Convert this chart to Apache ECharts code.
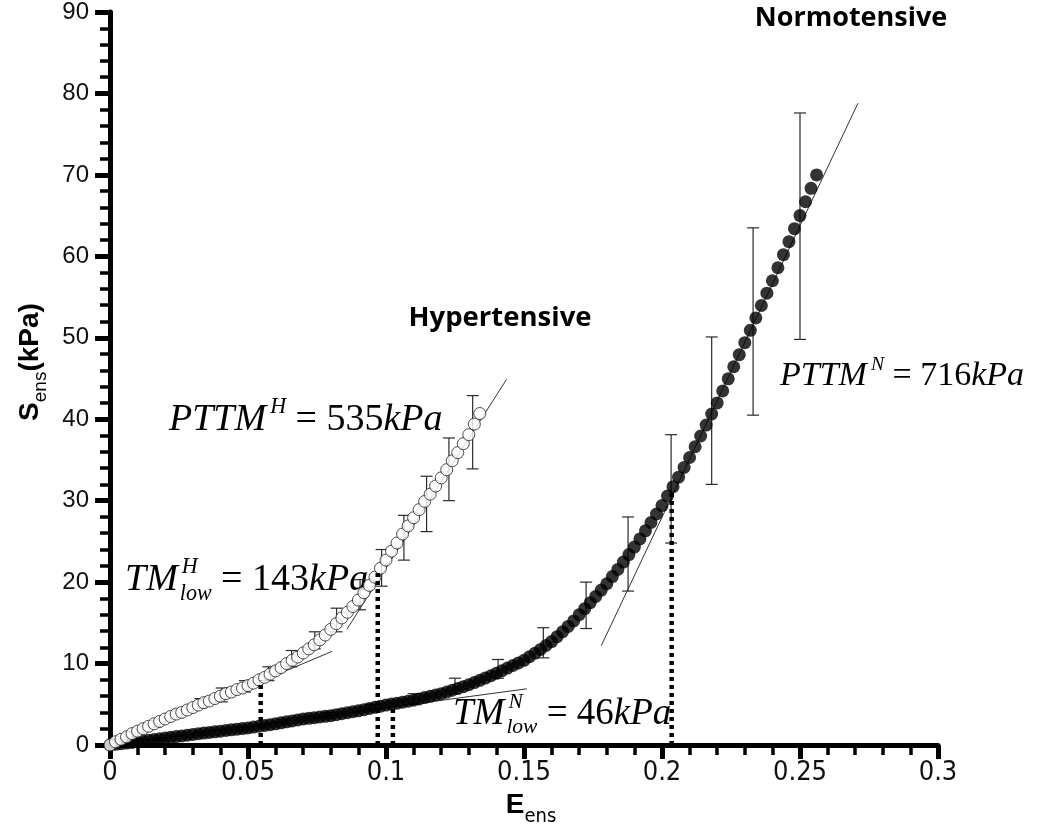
<!DOCTYPE html>
<html><head><meta charset="utf-8">
<script src="https://cdn.jsdelivr.net/npm/echarts@6/dist/echarts.min.js"></script>
<style>html,body{margin:0;padding:0;background:#fff}#c{width:1050px;height:834px}</style>
</head><body><div id="c"></div>
<script>
// ---------- data ----------
const xTickLabels = ['0','0.05','0.1','0.15','0.2','0.25','0.3'];
const yTickLabels = ['0','10','20','30','40','50','60','70','80','90'];

// Hypertensive (open circles)
const hypStrain = [0,0.002,0.004,0.006,0.008,0.010,0.012,0.014,0.016,0.018,0.020,0.022,0.024,0.026,0.028,0.030,0.032,0.034,0.036,0.038,0.040,0.042,0.044,0.046,0.048,0.050,0.052,0.054,0.056,0.058,0.060,0.062,0.064,0.066,0.068,0.070,0.072,0.074,0.076,0.078,0.080,0.082,0.084,0.086,0.088,0.090,0.092,0.094,0.096,0.098,0.100,0.102,0.104,0.106,0.108,0.110,0.112,0.114,0.116,0.118,0.120,0.122,0.124,0.126,0.128,0.130,0.132,0.134];
const hypStress = [0,0.4,0.7,1.0,1.4,1.7,2.0,2.3,2.6,2.9,3.2,3.5,3.8,4.0,4.3,4.6,4.9,5.2,5.4,5.7,6.0,6.3,6.5,6.8,7.0,7.3,7.6,8.0,8.3,8.7,9.1,9.5,10.0,10.4,10.8,11.3,11.8,12.3,12.9,13.5,14.2,14.9,15.6,16.3,17.0,17.8,18.7,19.6,20.6,21.7,22.7,23.8,24.8,25.9,26.9,27.9,28.9,29.9,30.8,31.8,32.8,33.8,34.9,35.9,37.0,38.1,39.4,40.7];

// Normotensive (filled dots)
const normStrain = [0,0.002,0.004,0.006,0.008,0.010,0.012,0.014,0.016,0.018,0.020,0.022,0.024,0.026,0.028,0.030,0.032,0.034,0.036,0.038,0.040,0.042,0.044,0.046,0.048,0.050,0.052,0.054,0.056,0.058,0.060,0.062,0.064,0.066,0.068,0.070,0.072,0.074,0.076,0.078,0.080,0.082,0.084,0.086,0.088,0.090,0.092,0.094,0.096,0.098,0.100,0.102,0.104,0.106,0.108,0.110,0.112,0.114,0.116,0.118,0.120,0.122,0.124,0.126,0.128,0.130,0.132,0.134,0.136,0.138,0.140,0.142,0.144,0.146,0.148,0.150,0.152,0.154,0.156,0.158,0.160,0.162,0.164,0.166,0.168,0.170,0.172,0.174,0.176,0.178,0.180,0.182,0.184,0.186,0.188,0.190,0.192,0.194,0.196,0.198,0.200,0.202,0.204,0.206,0.208,0.210,0.212,0.214,0.216,0.218,0.220,0.222,0.224,0.226,0.228,0.230,0.232,0.234,0.236,0.238,0.240,0.242,0.244,0.246,0.248,0.250,0.252,0.254,0.256];
const normStress = [0,0.08,0.16,0.24,0.32,0.40,0.49,0.58,0.67,0.76,0.85,0.94,1.03,1.12,1.21,1.30,1.38,1.46,1.54,1.62,1.70,1.78,1.86,1.94,2.02,2.10,2.20,2.30,2.40,2.50,2.60,2.72,2.84,2.96,3.08,3.20,3.28,3.36,3.44,3.52,3.60,3.72,3.84,3.96,4.08,4.20,4.34,4.48,4.62,4.76,4.90,5.02,5.14,5.26,5.38,5.50,5.66,5.82,5.98,6.14,6.30,6.50,6.72,6.94,7.16,7.40,7.66,7.94,8.22,8.50,8.80,9.12,9.44,9.76,10.08,10.40,10.84,11.28,11.74,12.22,12.70,13.30,13.92,14.56,15.24,16.00,16.74,17.48,18.24,19.02,19.80,20.68,21.56,22.46,23.38,24.30,25.30,26.30,27.32,28.36,29.40,30.56,31.72,32.88,34.08,35.30,36.62,37.94,39.28,40.64,42.00,43.48,44.96,46.44,47.92,49.40,50.92,52.44,53.96,55.48,57.00,58.60,60.20,61.80,63.40,65.00,66.70,68.35,70.00];

// error bars
const hypBarX    = [0.0082,0.0164,0.0246,0.0328,0.0405,0.0489,0.0574,0.0658,0.0742,0.0821,0.0906,0.0984,0.1065,0.1147,0.1228,0.1314];
const hypBarLow  = [1.1,2.2,3.4,4.5,5.3,6.5,7.9,9.6,11.8,13.9,16.6,19.5,22.7,26.2,30.0,33.9];
const hypBarHigh = [1.6,3.0,4.3,5.7,7.0,7.9,9.6,11.6,13.9,16.8,20.3,24.0,28.2,33.0,37.7,42.9];
const normBarX    = [0.0175,0.033,0.0485,0.064,0.079,0.0945,0.110,0.125,0.1406,0.157,0.1725,0.1877,0.2033,0.218,0.233,0.250];
const normBarLow  = [0.6,1.2,1.9,2.6,3.3,4.2,5.0,6.3,8.2,10.7,14.3,18.9,24.8,32.0,40.5,49.8];
const normBarHigh = [0.9,1.6,2.3,3.1,4.0,5.0,6.3,8.2,10.5,14.4,20.0,28.0,38.1,50.1,63.5,77.6];

// tangent lines [x1,y1,x2,y2]
const tangentHypLow  = [0, 0, 0.0805, 11.5];
const tangentHypPTTM = [0.0858, 14.2, 0.1437, 44.9];
const tangentNormLow = [0, 0, 0.151, 6.9];
const tangentNormPTTM= [0.178, 12.2, 0.271, 78.8];

// dotted transition markers: strain, stress top
const markerStrain = [0.0546, 0.0970, 0.1025, 0.2035];
const markerStress = [7.9, 21.6, 5.1, 31.2];

// ---------- chart ----------
const SERIF = '"Liberation Serif", "Times New Roman", serif';
const SANS = '"Liberation Sans", Arial, sans-serif';
const NARROW = '"Liberation Sans Narrow", "Arial Narrow", "DejaVu Sans Condensed", sans-serif';
const BOLDLABEL = '"Open Sans", Lato, sans-serif';

const chart = echarts.init(document.getElementById('c'), null, {renderer:'canvas'});

const cv = document.createElement('canvas').getContext('2d');
function fontStr(p){ return (p.italic?'italic ':'') + (p.bold?'bold ':'') + p.size + 'px ' + p.family; }
function tw(str, p){ cv.font = fontStr(p); return cv.measureText(str).width; }
function txt(x, base, str, p){
  return {type:'text', x:x, y: base - p.size*0.34, silent:true,
    style:{text:str, fontSize:p.size, fontFamily:p.family, fontStyle:p.italic?'italic':'normal',
      fontWeight:p.bold?'bold':'normal', fill:'#000', textAlign:'left', textVerticalAlign:'middle'}};
}
function formula(x0, base, size, parts){
  const els=[]; let x=x0; const ss=size*0.58;
  parts.forEach(p=>{
    if (p.sup!==undefined || p.sub!==undefined){
      let wmax=0; x += 2;
      if (p.sup){ const f={size:ss, italic:true, family:SERIF}; els.push(txt(x+2, base-size*0.48, p.sup, f)); wmax=Math.max(wmax, tw(p.sup,f)+2); }
      if (p.sub){ const f={size:ss, italic:true, family:SERIF}; els.push(txt(x, base+size*0.22, p.sub, f)); wmax=Math.max(wmax, tw(p.sub,f)); }
      x += wmax;
    } else {
      const f={size:size, italic:!!p.it, family:SERIF};
      els.push(txt(x, base, p.t, f)); x += tw(p.t, f);
    }
  });
  return els;
}

const graphics = [];
graphics.push(...formula(169, 433, 38, [{t:'PTTM',it:1},{sup:'H'},{t:' = 535'},{t:'kPa',it:1}]));
graphics.push(...formula(125, 593, 38, [{t:'TM',it:1},{sup:'H',sub:'low'},{t:' = 143'},{t:'kPa',it:1}]));
graphics.push(...formula(780, 388, 34, [{t:'PTTM',it:1},{sup:'N'},{t:' = 716'},{t:'kPa',it:1}]));
graphics.push(...formula(453, 727, 37, [{t:'TM',it:1},{sup:'N',sub:'low'},{t:' = 46'},{t:'kPa',it:1}]));

// group labels
graphics.push({type:'text', x:851, y:18, silent:true, style:{text:'Normotensive', fontSize:27, fontFamily:BOLDLABEL, fontWeight:'bold', fill:'#000', textAlign:'center', textVerticalAlign:'middle'}});
graphics.push({type:'text', x:500, y:318, silent:true, style:{text:'Hypertensive', fontSize:27.5, fontFamily:BOLDLABEL, fontWeight:'bold', fill:'#000', textAlign:'center', textVerticalAlign:'middle'}});

// x axis title E_ens
(function(){
  const fE={size:28,bold:true,family:SANS}, fs={size:20,family:NARROW};
  const W = tw('E',fE)+tw('ens',fs); let x = 531 - W/2;
  graphics.push(txt(x, 815, 'E', fE)); x += tw('E',fE);
  graphics.push(txt(x, 824, 'ens', fs));
})();
// y axis title S_ens(kPa), rotated
(function(){
  const fB={size:28,bold:true,family:SANS}, fs={size:19,family:SANS};
  const W = tw('S',fB)+tw('ens',fs)+tw('(kPa)',fB);
  let x = -W/2; const ch=[];
  ch.push(txt(x, 10, 'S', fB)); x += tw('S',fB);
  ch.push(txt(x, 17, 'ens', fs)); x += tw('ens',fs);
  ch.push(txt(x, 10, '(kPa)', fB));
  graphics.push({type:'group', x:30, y:362, rotation:Math.PI/2, children:ch});
})();

function errRender(params, api){
  const x=api.value(0), lo=api.value(1), hi=api.value(2);
  const a=api.coord([x,lo]), b=api.coord([x,hi]); const hw=6;
  const st={stroke:'#2a2a2a', lineWidth:1.2};
  return {type:'group', children:[
    {type:'line', shape:{x1:a[0],y1:a[1],x2:b[0],y2:b[1]}, style:st},
    {type:'line', shape:{x1:a[0]-hw,y1:a[1],x2:a[0]+hw,y2:a[1]}, style:st},
    {type:'line', shape:{x1:b[0]-hw,y1:b[1],x2:b[0]+hw,y2:b[1]}, style:st}
  ]};
}
function seg(t){ return [[t[0],t[1]],[t[2],t[3]]]; }
const tangentStyle = {color:'#333', width:1};
const series = [];
[tangentHypLow, tangentHypPTTM, tangentNormLow, tangentNormPTTM].forEach(t=>{
  series.push({type:'line', data:seg(t), symbol:'none', lineStyle:tangentStyle, z:1, silent:true});
});
series.push({type:'custom', renderItem:errRender, data:hypBarX.map((x,i)=>[x,hypBarLow[i],hypBarHigh[i]]), z:2, silent:true});
series.push({type:'custom', renderItem:errRender, data:normBarX.map((x,i)=>[x,normBarLow[i],normBarHigh[i]]), z:2, silent:true});
series.push({type:'scatter', data:normStrain.map((x,i)=>[x,normStress[i]]), symbol:'circle', symbolSize:13,
  itemStyle:{color:'#000'}, z:3, silent:true});
series.push({type:'scatter', data:hypStrain.map((x,i)=>[x,hypStress[i]]), symbol:'circle', symbolSize:12,
  itemStyle:{color:'#fff', borderColor:'#222', borderWidth:1}, z:4, silent:true});
markerStrain.forEach((x,i)=>{
  series.push({type:'line', data:[[x,0],[x,markerStress[i]]], symbol:'none',
    lineStyle:{color:'#000', width:4.5, type:[4,4], cap:'butt'}, z:5, silent:true});
});

chart.setOption({
  animation:false,
  backgroundColor:'#fff',
  grid:{left:110, right:112, top:8, bottom:89, containLabel:false},
  xAxis:{type:'value', min:0, max:0.3, interval:0.05,
    axisLine:{show:true, onZero:false, lineStyle:{color:'#000', width:5}},
    axisTick:{show:true, length:14, lineStyle:{color:'#000', width:5}},
    minorTick:{show:true, splitNumber:5, length:10, lineStyle:{color:'#000', width:3.5}},
    splitLine:{show:false},
    axisLabel:{margin:14, fontSize:27, fontFamily:NARROW, color:'#111',
      formatter:(v)=>{ const i=Math.round(v/0.05); return xTickLabels[i]; }}},
  yAxis:{type:'value', min:0, max:90, interval:10,
    axisLine:{show:true, onZero:false, lineStyle:{color:'#000', width:5}},
    axisTick:{show:true, length:15, lineStyle:{color:'#000', width:5}},
    minorTick:{show:true, splitNumber:5, length:10, lineStyle:{color:'#000', width:3.5}},
    splitLine:{show:false},
    axisLabel:{margin:21, fontSize:24, fontFamily:SANS, color:'#111',
      formatter:(v)=>{ const i=Math.round(v/10); return yTickLabels[i]; }}},
  series:series,
  graphic:graphics
});
</script></body></html>
